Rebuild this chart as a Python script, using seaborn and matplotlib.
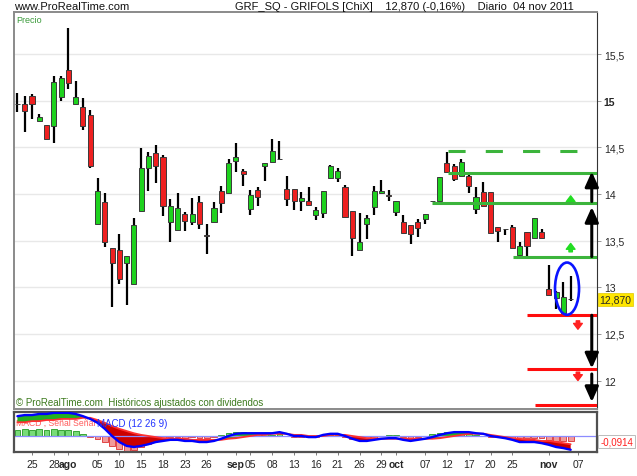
import numpy as np
import pandas as pd
import matplotlib
matplotlib.use('Agg')
import matplotlib.pyplot as plt
import matplotlib.transforms as mtransforms
from matplotlib.patches import Ellipse
import seaborn as sns

# trading days shown: 21 jul -> 04 nov 2011 (axis runs on to 07 nov)
days = pd.bdate_range('2011-07-21', '2011-11-07')

opens = [14.97, 14.97, 15.05, 14.78, 14.74, 14.73, 15.04, 15.33, 14.97, 14.93,
         14.85, 13.68, 13.91, 13.42, 13.40, 13.26, 13.03, 13.82, 14.28, 14.44,
         14.40, 13.70, 13.61, 13.79, 13.70, 13.91, 13.56, 13.70, 14.03, 14.01,
         14.35, 14.25, 13.84, 14.04, 14.30, 14.34, 14.37, 14.05, 14.05, 13.93,
         13.93, 13.77, 13.80, 14.17, 14.17, 14.07, 13.82, 13.40, 13.68, 13.86,
         14.01, 13.99, 13.81, 13.70, 13.67, 13.70, 13.73, 13.92, 13.93, 14.33,
         14.30, 14.19, 14.19, 13.84, 14.02, 14.02, 13.65, 13.62, 13.65, 13.35,
         13.59, 13.53, 13.59, 12.98, 12.88, 12.72, 12.87]
highs = [15.08, 15.05, 15.07, 14.86, 14.74, 15.26, 15.26, 15.78, 15.21, 15.03,
         14.90, 14.17, 14.01, 13.42, 13.57, 13.34, 13.74, 14.49, 14.45, 14.52,
         14.42, 13.95, 14.01, 13.81, 13.96, 13.98, 13.68, 13.91, 14.09, 14.37,
         14.55, 14.27, 14.04, 14.07, 14.33, 14.59, 14.57, 14.19, 14.05, 14.02,
         14.07, 13.86, 14.03, 14.31, 14.28, 14.10, 13.82, 13.80, 13.77, 14.09,
         14.15, 14.04, 13.93, 13.77, 13.67, 13.73, 13.79, 13.93, 14.18, 14.45,
         14.32, 14.38, 14.24, 14.07, 14.13, 14.02, 13.65, 13.63, 13.67, 13.49,
         13.59, 13.74, 13.63, 13.24, 12.96, 13.06, 13.12]
lows = [14.88, 14.67, 14.80, 14.78, 14.59, 14.55, 15.00, 15.13, 14.97, 14.69,
        14.28, 13.68, 13.43, 12.79, 13.03, 12.81, 13.03, 13.82, 14.03, 14.12,
        13.76, 13.49, 13.61, 13.60, 13.67, 13.63, 13.36, 13.70, 13.80, 14.01,
        14.24, 14.09, 13.78, 13.87, 14.14, 14.34, 14.37, 13.87, 13.83, 13.82,
        13.88, 13.72, 13.74, 14.16, 14.13, 13.75, 13.34, 13.40, 13.52, 13.77,
        14.01, 13.92, 13.76, 13.58, 13.46, 13.54, 13.68, 13.92, 13.93, 14.24,
        14.14, 14.19, 14.01, 13.79, 13.87, 13.58, 13.49, 13.56, 13.42, 13.33,
        13.33, 13.53, 13.53, 12.92, 12.77, 12.72, 12.85]
closes = [14.97, 14.89, 14.97, 14.83, 14.59, 15.20, 15.24, 15.19, 15.04, 14.73,
          14.30, 14.03, 13.48, 13.26, 13.09, 13.33, 13.67, 14.28, 14.41, 14.30,
          13.87, 13.87, 13.85, 13.71, 13.79, 13.68, 13.55, 13.85, 13.90, 14.33,
          14.40, 14.21, 13.99, 13.97, 14.33, 14.46, 14.37, 13.95, 13.93, 13.96,
          13.88, 13.83, 14.03, 14.30, 14.25, 13.75, 13.53, 13.48, 13.74, 14.03,
          14.03, 13.98, 13.93, 13.58, 13.57, 13.64, 13.79, 13.93, 14.18, 14.24,
          14.16, 14.34, 14.09, 13.97, 13.87, 13.58, 13.60, 13.63, 13.42, 13.44,
          13.44, 13.74, 13.53, 12.92, 12.95, 12.90, 12.87]

macd = [0.36, 0.38, 0.38, 0.40, 0.40, 0.42, 0.42, 0.42, 0.40, 0.36,
        0.31, 0.24, 0.13, 0.00, -0.11, -0.18, -0.20, -0.18, -0.15, -0.11,
        -0.09, -0.07, -0.07, -0.09, -0.09, -0.11, -0.11, -0.09, -0.05, 0.00,
        0.04, 0.05, 0.05, 0.05, 0.05, 0.05, 0.07, 0.04, 0.00, 0.00,
        -0.02, -0.02, 0.02, 0.04, 0.04, 0.00, -0.05, -0.09, -0.09, -0.07,
        -0.05, -0.04, -0.04, -0.07, -0.09, -0.07, -0.05, -0.02, 0.02, 0.05,
        0.07, 0.07, 0.07, 0.05, 0.04, 0.00, -0.02, -0.04, -0.07, -0.11,
        -0.11, -0.11, -0.13, -0.16, -0.20, -0.22, -0.25]
signal = [0.25, 0.25, 0.27, 0.27, 0.29, 0.29, 0.31, 0.31, 0.31, 0.33,
          0.33, 0.29, 0.24, 0.18, 0.13, 0.09, 0.05, 0.02, 0.00, -0.02,
          -0.04, -0.05, -0.05, -0.05, -0.07, -0.07, -0.07, -0.07, -0.07, -0.05,
          -0.04, -0.02, 0.00, 0.02, 0.02, 0.04, 0.04, 0.04, 0.02, 0.02,
          0.00, 0.00, 0.00, 0.02, 0.02, 0.02, 0.00, -0.02, -0.04, -0.04,
          -0.05, -0.05, -0.05, -0.05, -0.05, -0.05, -0.05, -0.05, -0.04, -0.02,
          0.00, 0.02, 0.04, 0.04, 0.04, 0.02, 0.00, -0.02, -0.04, -0.05,
          -0.07, -0.07, -0.09, -0.09, -0.11, -0.13, -0.15]
histogram = [0.11, 0.13, 0.11, 0.13, 0.11, 0.13, 0.11, 0.11, 0.09, 0.03,
             -0.02, -0.05, -0.11, -0.18, -0.24, -0.27, -0.25, -0.20, -0.15, -0.09,
             -0.05, -0.02, -0.02, -0.04, -0.02, -0.04, -0.04, -0.02, 0.02, 0.05,
             0.08, 0.07, 0.05, 0.03, 0.03, 0.01, 0.03, 0.00, -0.02, -0.02,
             -0.02, -0.02, 0.02, 0.02, 0.02, -0.02, -0.05, -0.07, -0.05, -0.03,
             0.00, 0.01, 0.01, -0.02, -0.04, -0.02, 0.00, 0.03, 0.06, 0.07,
             0.07, 0.05, 0.03, 0.01, 0.00, -0.02, -0.02, -0.02, -0.03, -0.06,
             -0.04, -0.04, -0.04, -0.07, -0.09, -0.09, -0.10]

tick_days = ['2011-07-25', '2011-07-28', '2011-08-01', '2011-08-05', '2011-08-10',
             '2011-08-15', '2011-08-18', '2011-08-23', '2011-08-26', '2011-09-01',
             '2011-09-05', '2011-09-08', '2011-09-13', '2011-09-16', '2011-09-21',
             '2011-09-26', '2011-09-29', '2011-10-03', '2011-10-07', '2011-10-12',
             '2011-10-17', '2011-10-20', '2011-10-25', '2011-11-01', '2011-11-07']
tick_labels = ['25', '28', 'ago', '05', '10', '15', '18', '23', '26', 'sep', '05', '08',
               '13', '16', '21', '26', '29', 'oct', '07', '12', '17', '20', '25', 'nov', '07']
month_labels = ['ago', 'sep', 'oct', 'nov']

# support / resistance levels drawn on the chart: (price, first day index)
green_levels = [(14.23, 59.1), (13.90, 57.0), (13.32, 68.1)]
red_levels = [(12.70, 70.0), (12.12, 70.0), (11.74, 71.1)]
dashed_level = (14.46, 59.1, 77.0)

sns.set_style('white')
plt.rcParams['font.family'] = ['Liberation Sans', 'DejaVu Sans']

opens, highs, lows, closes = map(np.array, (opens, highs, lows, closes))
macd, signal, histogram = map(np.array, (macd, signal, histogram))
x = np.arange(len(opens))

fig = plt.figure(figsize=(6.37, 4.77), dpi=100)
ax = fig.add_axes([0.022, 0.1405, 0.915, 0.832])
axm = fig.add_axes([0.022, 0.0503, 0.915, 0.0839])

x_lo, x_hi = -0.47, 79.6

# ---- price panel
ax.set_xlim(x_lo, x_hi)
ax.set_ylim(11.695, 15.95)
ax.set_yticks([12, 12.5, 13, 13.5, 14, 14.5, 15, 15.5])
ax.yaxis.tick_right()
ax.set_yticklabels([f'{v:g}'.replace('.', ',') for v in ax.get_yticks()], fontsize=7.5)
for lab in ax.get_yticklabels():
    if lab.get_text() == '15':
        lab.set_fontweight('bold')
ax.tick_params(axis='y', length=3, width=0.6, color='#888888', pad=2, right=True)
ax.set_xticks([])
ax.grid(axis='y', color='#e8e8e8', lw=1)
for side in ['left', 'top', 'bottom']:
    ax.spines[side].set_color('#8a8a8a')
    ax.spines[side].set_linewidth(1.4)
ax.spines['right'].set_color('#333333')
ax.spines['right'].set_linewidth(0.8)

body_col = np.where(closes > opens, '#1ed21e', np.where(closes < opens, '#ee2020', '#111111'))
ax.vlines(x, lows, highs, color='black', lw=1.6, zorder=2)
ax.bar(x, np.abs(closes - opens), bottom=np.minimum(opens, closes), width=0.7,
       color=body_col, edgecolor='#3a3a3a', lw=0.7, zorder=3)

lw_lvl = 2.2
ax.hlines(dashed_level[0], dashed_level[1], dashed_level[2], color='#3cb43c', lw=lw_lvl,
          linestyles=(0, (5.6, 6.6)), zorder=4)
for price, start in green_levels:
    ax.hlines(price, start, x_hi, color='#3cb43c', lw=lw_lvl, zorder=4)
for price, start in red_levels:
    ax.hlines(price, start, x_hi, color='#ff0d0d', lw=lw_lvl, zorder=4)

# small target arrows
for yb, yt in [(13.89, 13.98), (13.38, 13.47)]:
    ax.annotate('', xy=(76.0, yt), xytext=(76.0, yb),
                arrowprops=dict(arrowstyle='simple,head_width=0.9,head_length=0.6,tail_width=0.35',
                                color='#22dd22', shrinkA=0, shrinkB=0, mutation_scale=7))
for yb, yt in [(12.55, 12.64), (12.00, 12.09)]:
    ax.annotate('', xy=(77.0, yb), xytext=(77.0, yt),
                arrowprops=dict(arrowstyle='simple,head_width=0.9,head_length=0.6,tail_width=0.35',
                                color='#ff2222', shrinkA=0, shrinkB=0, mutation_scale=7))

# big black move arrows
for y0, y1 in [(13.33, 13.86), (13.92, 14.24), (12.70, 12.13), (12.07, 11.77)]:
    ax.annotate('', xy=(78.9, y1), xytext=(78.9, y0),
                arrowprops=dict(arrowstyle='-|>,head_length=1.0,head_width=0.45',
                                color='black', lw=2.2, shrinkA=0, shrinkB=0,
                                mutation_scale=9), zorder=5)

ax.add_patch(Ellipse((75.5, 12.985), 3.3, 0.56, fill=False, edgecolor='#0a14ff', lw=1.9, zorder=6))

trans_r = mtransforms.blended_transform_factory(ax.transAxes, ax.transData)
ax.text(1.004, 12.87, '12,870', transform=trans_r, fontsize=7.5, va='center', ha='left',
        bbox=dict(boxstyle='square,pad=0.15', fc='#ffe600', ec='#e0c800', lw=0.5), clip_on=False)
ax.text(0.004, 0.992, 'Precio', transform=ax.transAxes, color='#3a9a3a', fontsize=6.5, va='top')
ax.text(0.003, 0.004, '© ProRealTime.com  Históricos ajustados con dividendos',
        transform=ax.transAxes, color='#3d7a1e', fontsize=7, va='bottom')

# ---- MACD panel
axm.set_xlim(x_lo, x_hi)
axm.set_ylim(-0.291, 0.436)
hist_fc = np.where(histogram >= 0, '#78dc78', '#f29a9a')
hist_ec = np.where(histogram >= 0, '#229922', '#dd3030')
axm.bar(x, histogram, width=0.8, color=hist_fc, edgecolor=hist_ec, lw=0.6, zorder=1)
axm.fill_between(x, macd, signal, where=macd >= signal, interpolate=True, color='#22b022', lw=0, zorder=2)
axm.fill_between(x, macd, signal, where=macd < signal, interpolate=True, color='#cc0000', lw=0, zorder=2)
axm.axhline(0, color='#8c8cff', lw=0.9, zorder=2)
sns.lineplot(x=x, y=signal, ax=axm, color='#ff3030', lw=1.3, zorder=3)
sns.lineplot(x=x, y=macd, ax=axm, color='#0000ff', lw=1.7, zorder=4)
axm.set_ylabel('')
axm.set_yticks([])
for side in axm.spines.values():
    side.set_color('#505050')
    side.set_linewidth(1.6)

axm.text(0.004, 0.86, 'MACD , Señal Señal', transform=axm.transAxes, color='#ff5a5a',
         fontsize=6.2, va='top', zorder=1)
axm.text(0.143, 0.86, 'MACD (12 26 9)', transform=axm.transAxes, color='#2233ff',
         fontsize=7, va='top', zorder=5)
trans_m = mtransforms.blended_transform_factory(axm.transAxes, axm.transData)
axm.text(1.006, histogram[-1], '-0,0914', transform=trans_m, color='#ff2020', fontsize=7,
         va='center', ha='left', clip_on=False,
         bbox=dict(boxstyle='square,pad=0.2', fc='white', ec='#bbbbbb', lw=0.7))

pos = [days.get_loc(pd.Timestamp(d)) for d in tick_days]
axm.set_xticks(pos)
axm.set_xticklabels(tick_labels, fontsize=7.5)
for lab in axm.get_xticklabels():
    if lab.get_text() in month_labels:
        lab.set_fontweight('bold')
axm.tick_params(axis='x', length=2, width=0.6, color='#666666', pad=3, bottom=True)

# ---- header
head_font = ['Liberation Sans Narrow', 'Liberation Sans', 'DejaVu Sans']
fig.text(14 / 637, 1 - 7 / 477, 'www.ProRealTime.com', fontsize=8, va='center',
         family=head_font, color='#111111')
fig.text(235 / 637, 1 - 7 / 477,
         'GRF_SQ - GRIFOLS [ChiX]    12,870 (-0,16%)    Diario  04 nov 2011',
         fontsize=8, va='center', family=head_font, color='#111111')

fig.savefig('out.png', dpi=100)
